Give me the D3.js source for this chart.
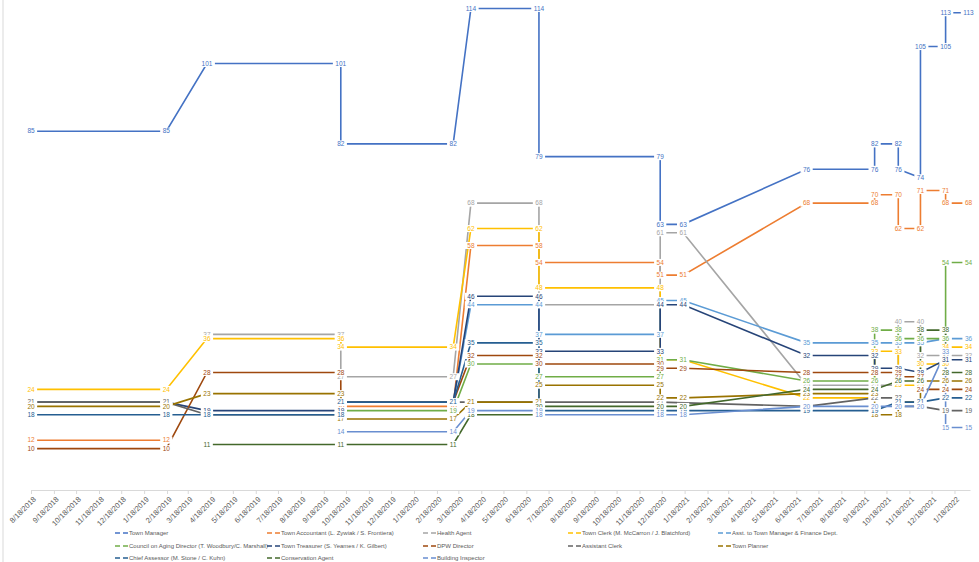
<!DOCTYPE html>
<html><head><meta charset="utf-8">
<script src="https://cdn.jsdelivr.net/npm/d3@7"></script>
<style>body{margin:0;background:#fff;font-family:"Liberation Sans",Arial,sans-serif}</style>
</head><body><svg id="c" width="979" height="562"></svg>
<script>
// Dates of the observation columns
const pointDates = ["2018-08-18","2019-02-17","2019-04-13","2019-10-11","2020-03-11","2020-04-04","2020-07-05",
  "2020-12-16","2021-01-16","2021-07-02","2021-10-02","2021-11-03","2021-12-03","2022-01-06","2022-02-06"];

// [column index, value]
const townManager = [[0,85],[1,85],[2,101],[3,101],[3,82],[4,82],[5,114],[6,114],[6,79],[7,79],[7,63],[8,63],[9,76],[10,76],[10,82],[11,82],[11,76],[12,74],[12,105],[13,105],[13,113],[14,113]];
const townAccountant = [[0,12],[1,12],[2,null],[3,20],[4,20],[5,58],[6,58],[6,54],[7,54],[7,51],[8,51],[9,68],[10,68],[10,70],[11,70],[11,62],[12,62],[12,71],[13,71],[13,68],[14,68]];
const healthAgent = [[2,37],[3,37],[3,27],[4,27],[5,68],[6,68],[6,44],[7,44],[7,61],[8,61],[9,25],[10,25],[11,25],[11,40],[12,40],[12,32],[13,32],[14,32]];
const townClerk = [[0,24],[1,24],[2,36],[3,36],[3,34],[4,34],[5,62],[6,62],[6,48],[7,48],[7,31],[8,31],[9,22],[10,22],[10,33],[11,33],[11,25],[12,25],[12,30],[13,30],[13,34],[14,34]];
const asstTownManager = [[4,21],[5,44],[6,44],[6,37],[7,37],[7,45],[8,45],[9,35],[10,35],[11,35],[12,35],[13,36],[14,36]];
const councilOnAging = [[3,19],[4,19],[5,30],[6,30],[6,27],[7,27],[7,31],[8,31],[9,26],[10,26],[10,38],[11,38],[11,36],[12,36],[13,36],[13,54],[14,54]];
const townTreasurer = [[0,21],[1,21],[2,19],[3,19],[3,21],[4,21],[5,46],[6,46],[6,33],[7,33],[7,44],[8,44],[9,32],[10,32],[10,29],[11,29],[12,28],[13,31],[14,31]];
const dpwDirector = [[0,10],[1,10],[2,28],[3,28],[3,21],[4,21],[5,32],[6,32],[6,30],[7,30],[7,29],[8,29],[9,28],[10,28],[11,28],[11,27],[12,27],[12,24],[13,24],[14,24]];
const assistantClerk = [[0,21],[1,21],[2,18],[3,18],[3,21],[4,21],[5,21],[6,21],[7,21],[9,20],[10,22],[11,22],[11,20],[12,20],[13,19],[14,19]];
const townPlanner = [[0,20],[1,20],[2,23],[3,23],[3,17],[4,17],[5,21],[6,21],[6,25],[7,25],[7,22],[8,22],[9,23],[10,23],[10,18],[11,18],[11,21],[12,21],[12,26],[13,26],[14,26]];
const chiefAssessor = [[0,18],[1,18],[2,18],[3,18],[3,21],[4,21],[5,35],[6,35],[6,19],[7,19],[8,19],[9,19],[10,19],[11,21],[12,21],[13,22],[14,22]];
const conservationAgent = [[2,11],[3,11],[4,11],[5,18],[6,18],[6,20],[7,20],[8,20],[9,24],[10,24],[11,26],[12,26],[12,38],[13,38],[13,28],[14,28]];
const buildingInspector = [[3,14],[4,14],[5,19],[6,19],[6,18],[7,18],[8,18],[9,20],[10,20],[11,20],[12,20],[13,33],[13,15],[14,15]];

const seriesNames = ["Town Manager","Town Accountant (L. Zywiak / S. Frontiera)","Health Agent",
  "Town Clerk (M. McCarron / J. Blatchford)","Asst. to Town Manager & Finance Dept.",
  "Council on Aging Director (T. Woodbury/C. Marshall)","Town Treasurer (S. Yeames / K. Gilbert)",
  "DPW Director","Assistant Clerk","Town Planner","Chief Assessor (M. Stone / C. Kuhn)",
  "Conservation Agent","Building Inspector"];
const seriesValues = [townManager,townAccountant,healthAgent,townClerk,asstTownManager,councilOnAging,
  townTreasurer,dpwDirector,assistantClerk,townPlanner,chiefAssessor,conservationAgent,buildingInspector];
const seriesColors = ["#4472C4","#ED7D31","#A5A5A5","#FFC000","#5B9BD5","#70AD47","#264478","#9E480E",
  "#636363","#997300","#255E91","#43682B","#698ED0"];

const parse = d3.timeParse("%Y-%m-%d");
const dates = pointDates.map(parse);
const tickDates = d3.range(0, 42).map(i => new Date(2018, 7 + i, 18));

const svg = d3.select("#c");
const x = d3.scaleTime().domain([new Date(2018,7,18), new Date(2022,1,8)]).range([31, 970]);
const y = d3.scaleLinear().domain([0, 116]).range([491, 0]);

// chart border (left edge)
svg.append("line").attr("x1",3).attr("x2",3).attr("y1",0).attr("y2",562).attr("stroke","#D9D9D9");

// x axis
const ax = svg.append("g").attr("transform","translate(0,490)")
  .call(d3.axisBottom(x).tickValues(tickDates).tickFormat(d3.timeFormat("%-m/%-d/%Y")).tickSize(4).tickSizeOuter(0));
ax.select(".domain").attr("stroke","#D9D9D9");
ax.selectAll(".tick line").attr("stroke","#D9D9D9");
ax.selectAll(".tick text").attr("fill","#595959").attr("font-size","7.5px")
  .attr("font-family","'Liberation Sans',Arial,sans-serif")
  .attr("text-anchor","end").attr("x",0).attr("y",0).attr("dy","0.35em")
  .attr("transform","translate(3,8) rotate(-45)");

const series = seriesNames.map((name,i) => ({
  name, color: seriesColors[i],
  points: seriesValues[i].map(([c,v]) => ({date: dates[c], value: v}))
}));

const line = d3.line().defined(d => d.value != null).x(d => x(d.date)).y(d => y(d.value));

const gLines = svg.append("g");
series.forEach(s => {
  gLines.append("path").datum(s.points).attr("d", line).attr("fill","none")
    .attr("stroke", s.color).attr("stroke-width", 1.6);
});

// data labels
const gLab = svg.append("g").attr("font-size","6.5px").attr("font-family","'Liberation Sans',Arial,sans-serif");
series.forEach(s => {
  s.points.filter(d => d.value != null).forEach(d => {
    const g = gLab.append("g").attr("transform", `translate(${x(d.date)},${y(d.value)})`);
    const t = g.append("text").attr("text-anchor","middle").attr("dy","0.35em").attr("fill", s.color)
      .text(d3.format("d")(Math.round(d.value)));
    const w = t.node().getComputedTextLength();
    g.insert("rect","text").attr("x", -w/2 - 2.5).attr("y", -3.5).attr("width", w + 5).attr("height", 7).attr("fill","#fff");
  });
});

// legend
const legCols = [115, 267, 423, 568, 718];
const legRows = [533, 546, 558];
const leg = svg.append("g").attr("font-size","6px").attr("font-family","'Liberation Sans',Arial,sans-serif");
series.forEach((s,i) => {
  const lx = legCols[i % 5], ly = legRows[Math.floor(i / 5)];
  const g = leg.append("g").attr("transform", `translate(${lx},${ly})`);
  g.append("line").attr("x1",0).attr("x2",5).attr("y1",0).attr("y2",0).attr("stroke",s.color).attr("stroke-width",1.5);
  g.append("line").attr("x1",8).attr("x2",13).attr("y1",0).attr("y2",0).attr("stroke",s.color).attr("stroke-width",1.5);
  g.append("text").attr("x",14).attr("dy","0.35em").attr("fill","#595959").text(s.name);
});
</script></body></html>
